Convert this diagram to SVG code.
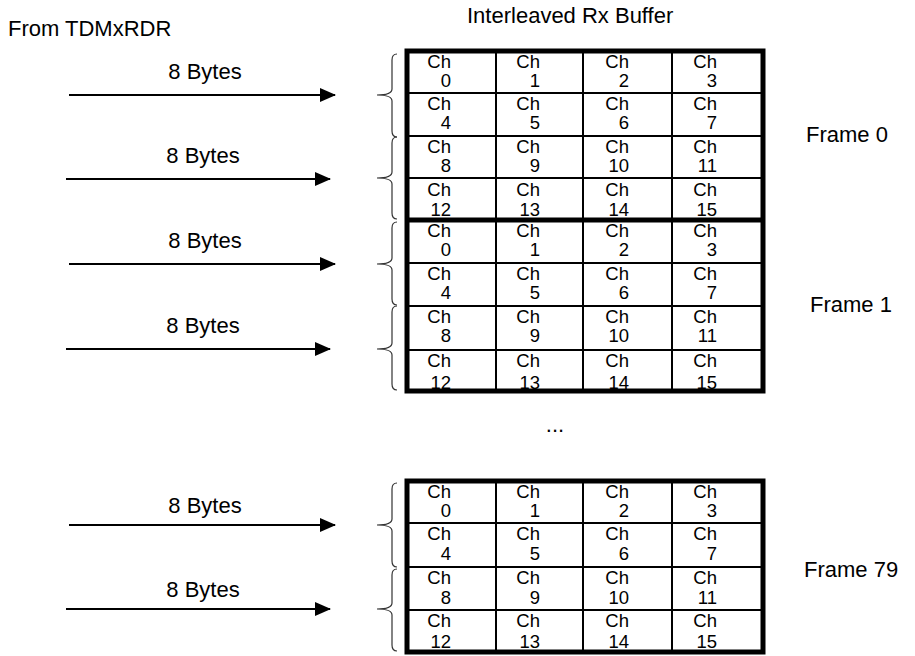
<svg xmlns="http://www.w3.org/2000/svg" width="915" height="656" viewBox="0 0 915 656">
  <defs>
    <marker id="arrow" viewBox="0 0 16 14" refX="15" refY="7" markerWidth="16" markerHeight="14" markerUnits="userSpaceOnUse" orient="auto">
      <path d="M0,0 L16,7 L0,14 Z" fill="#000"/>
    </marker>
    <style>
      .lbl { font-family: "Liberation Sans", Arial, Helvetica, sans-serif; font-size: 22px; fill: #000; }
      .cell { font-family: "Liberation Sans", Arial, Helvetica, sans-serif; font-size: 18.5px; fill: #000; text-anchor: end; }
      .grid { stroke: #000; stroke-width: 2; fill: none; }
      .frame { stroke: #000; stroke-width: 5; fill: none; }
      .brace { stroke: #333; stroke-width: 1.2; fill: none; }
      .arr { stroke: #000; stroke-width: 2; fill: none; marker-end: url(#arrow); }
    </style>
  </defs>
  <rect width="915" height="656" fill="#fff"/>

  <text class="lbl" x="8" y="36">From TDMxRDR</text>
  <text class="lbl" x="467" y="23">Interleaved Rx Buffer</text>
  <text class="lbl" x="555" y="432" text-anchor="middle">...</text>

  <!-- Frame 0 buffer -->
  <g id="frame0">
    <path class="grid" d="M407,93 H763 M407,136 H763 M407,178 H763 M496,51 V220 M583,51 V220 M672,51 V220"/>
    <g class="cell">
      <text x="451" y="68">Ch</text><text x="451" y="87">0</text>
      <text x="540" y="68">Ch</text><text x="540" y="87">1</text>
      <text x="629" y="68">Ch</text><text x="629" y="87">2</text>
      <text x="717" y="68">Ch</text><text x="717" y="87">3</text>
      <text x="451" y="110">Ch</text><text x="451" y="129">4</text>
      <text x="540" y="110">Ch</text><text x="540" y="129">5</text>
      <text x="629" y="110">Ch</text><text x="629" y="129">6</text>
      <text x="717" y="110">Ch</text><text x="717" y="129">7</text>
      <text x="451" y="153">Ch</text><text x="451" y="172">8</text>
      <text x="540" y="153">Ch</text><text x="540" y="172">9</text>
      <text x="629" y="153">Ch</text><text x="629" y="172">10</text>
      <text x="717" y="153">Ch</text><text x="717" y="172">11</text>
      <text x="451" y="196">Ch</text><text x="451" y="216">12</text>
      <text x="540" y="196">Ch</text><text x="540" y="216">13</text>
      <text x="629" y="196">Ch</text><text x="629" y="216">14</text>
      <text x="717" y="196">Ch</text><text x="717" y="216">15</text>
    </g>
    <path class="frame" d="M407,220 V51 H763 V220"/>
    <text class="lbl" x="806" y="142">Frame 0</text>
  </g>

  <!-- Frame 1 buffer -->
  <g id="frame1">
    <path class="grid" d="M407,263 H763 M407,306 H763 M407,350 H763 M496,220 V391 M583,220 V391 M672,220 V391"/>
    <g class="cell">
      <text x="451" y="237">Ch</text><text x="451" y="256">0</text>
      <text x="540" y="237">Ch</text><text x="540" y="256">1</text>
      <text x="629" y="237">Ch</text><text x="629" y="256">2</text>
      <text x="717" y="237">Ch</text><text x="717" y="256">3</text>
      <text x="451" y="280">Ch</text><text x="451" y="299">4</text>
      <text x="540" y="280">Ch</text><text x="540" y="299">5</text>
      <text x="629" y="280">Ch</text><text x="629" y="299">6</text>
      <text x="717" y="280">Ch</text><text x="717" y="299">7</text>
      <text x="451" y="323">Ch</text><text x="451" y="342">8</text>
      <text x="540" y="323">Ch</text><text x="540" y="342">9</text>
      <text x="629" y="323">Ch</text><text x="629" y="342">10</text>
      <text x="717" y="323">Ch</text><text x="717" y="342">11</text>
      <text x="451" y="367">Ch</text><text x="451" y="389">12</text>
      <text x="540" y="367">Ch</text><text x="540" y="389">13</text>
      <text x="629" y="367">Ch</text><text x="629" y="389">14</text>
      <text x="717" y="367">Ch</text><text x="717" y="389">15</text>
    </g>
    <path class="frame" d="M407,220 H763 M407,220 V391 H763 V220"/>
    <text class="lbl" x="810" y="312">Frame 1</text>
  </g>

  <!-- Frame 79 buffer -->
  <g id="frame79">
    <path class="grid" d="M407,523 H763 M407,567 H763 M407,610 H763 M496,481 V652 M583,481 V652 M672,481 V652"/>
    <g class="cell">
      <text x="451" y="498">Ch</text><text x="451" y="517">0</text>
      <text x="540" y="498">Ch</text><text x="540" y="517">1</text>
      <text x="629" y="498">Ch</text><text x="629" y="517">2</text>
      <text x="717" y="498">Ch</text><text x="717" y="517">3</text>
      <text x="451" y="540">Ch</text><text x="451" y="560">4</text>
      <text x="540" y="540">Ch</text><text x="540" y="560">5</text>
      <text x="629" y="540">Ch</text><text x="629" y="560">6</text>
      <text x="717" y="540">Ch</text><text x="717" y="560">7</text>
      <text x="451" y="584">Ch</text><text x="451" y="604">8</text>
      <text x="540" y="584">Ch</text><text x="540" y="604">9</text>
      <text x="629" y="584">Ch</text><text x="629" y="604">10</text>
      <text x="717" y="584">Ch</text><text x="717" y="604">11</text>
      <text x="451" y="627">Ch</text><text x="451" y="648">12</text>
      <text x="540" y="627">Ch</text><text x="540" y="648">13</text>
      <text x="629" y="627">Ch</text><text x="629" y="648">14</text>
      <text x="717" y="627">Ch</text><text x="717" y="648">15</text>
    </g>
    <rect class="frame" x="407" y="481" width="356" height="171"/>
    <text class="lbl" x="804" y="577">Frame 79</text>
  </g>

  <!-- Incoming 8-byte transfers and the brace over each pair of rows -->
  <g id="connectors">
    <text class="lbl" x="205" y="79" text-anchor="middle">8 Bytes</text>
    <text class="lbl" x="203" y="163" text-anchor="middle">8 Bytes</text>
    <text class="lbl" x="205" y="248" text-anchor="middle">8 Bytes</text>
    <text class="lbl" x="203" y="333" text-anchor="middle">8 Bytes</text>
    <text class="lbl" x="205" y="513" text-anchor="middle">8 Bytes</text>
    <text class="lbl" x="203" y="597" text-anchor="middle">8 Bytes</text>

    <path class="arr" d="M69,95 H335"/>
    <path class="arr" d="M66,179 H330"/>
    <path class="arr" d="M69,264 H335"/>
    <path class="arr" d="M66,349 H330"/>
    <path class="arr" d="M69,525 H335"/>
    <path class="arr" d="M66,609 H330"/>

    <path class="brace" d="M397,54 Q392,54 392,60 V89 Q392,95 377,95 Q392,95 392,101 V131 Q392,137 397,137"/>
    <path class="brace" d="M397,137 Q392,137 392,143 V172 Q392,178 377,178 Q392,178 392,184 V213 Q392,219 397,219"/>
    <path class="brace" d="M397,222 Q392,222 392,228 V258 Q392,264 377,264 Q392,264 392,270 V299 Q392,305 397,305"/>
    <path class="brace" d="M397,306 Q392,306 392,312 V343 Q392,349 377,349 Q392,349 392,355 V384 Q392,390 397,390"/>
    <path class="brace" d="M397,483 Q392,483 392,489 V519 Q392,525 377,525 Q392,525 392,531 V561 Q392,567 397,567"/>
    <path class="brace" d="M397,569 Q392,569 392,575 V603 Q392,609 377,609 Q392,609 392,615 V645 Q392,651 397,651"/>
  </g>
</svg>
